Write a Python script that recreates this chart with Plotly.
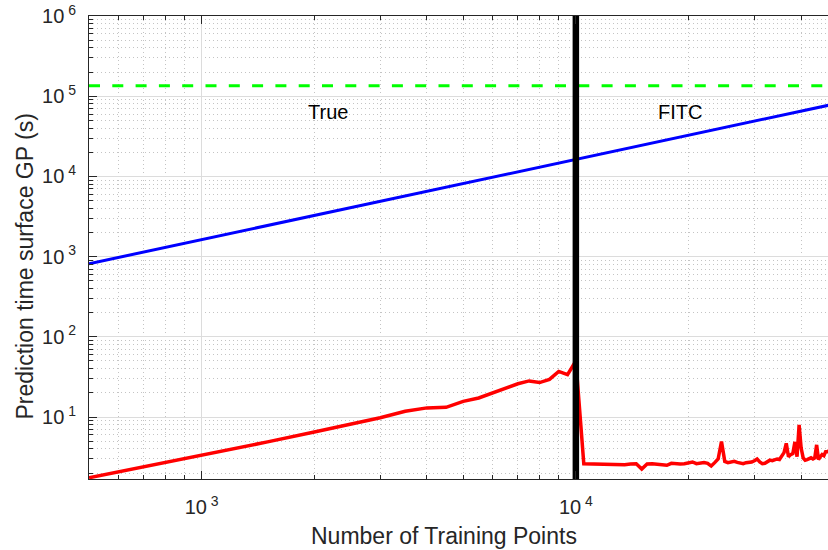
import plotly.graph_objects as go

# ---------------- data ----------------
n_points = list(range(500, 47501, 500))
red_time = [
    1.75, 3.3, 4.9, 6.5, 8.1, 9.8, 11.8, 13.0, 13.2, 15.7,
    17.3, 20.2, 23.0, 26.0, 28.2, 26.9, 29.5, 37.0, 33.7, 50.0,
    2.62, 2.60, 2.58, 2.55, 2.53, 2.53, 2.55, 2.60, 2.62, 2.25,
    2.60, 2.62, 2.60, 2.55, 2.50, 2.65, 2.60, 2.60, 2.62, 2.68,
    2.75, 2.62, 2.65, 2.70, 2.65, 2.45, 2.70, 3.00, 4.95, 2.80,
    2.70, 2.75, 2.80, 2.72, 2.65, 2.62, 2.70, 2.72, 2.75, 2.85,
    3.00, 2.75, 2.62, 2.65, 2.80, 2.90, 2.85, 2.90, 3.00, 2.95,
    3.20, 3.60, 4.70, 3.20, 3.40, 3.50, 4.90, 3.20, 8.00, 4.10,
    3.10, 2.90, 2.95, 3.00, 3.10, 3.00, 3.10, 4.50, 2.95, 3.20,
    3.40, 3.30, 3.70, 3.70, 3.80,
]
blue_n = [500, 10000, 47500]
blue_time = [815, 16300, 77400]
green_n = [500, 47500]
green_time = [135400, 135400]
split_n = [10000, 10000]
split_y = [1.69, 1.0e6]

x_tick_vals = [1000, 10000]
x_tick_text = ["10<sup> 3</sup>", "10<sup> 4</sup>"]
y_tick_vals = [10, 100, 1000, 10000, 100000, 1000000]
y_tick_text = ["10<sup> %d</sup>" % k for k in range(1, 7)]

# ---------------- figure ----------------
FONT = "Liberation Sans, Arial, Helvetica, sans-serif"
AX = "#262626"

fig = go.Figure()
fig.add_trace(go.Scatter(x=green_n, y=green_time, mode="lines",
                         line=dict(color="#00ff00", width=3, dash="11px,12.3px"),
                         showlegend=False, hoverinfo="skip"))
fig.add_trace(go.Scatter(x=blue_n, y=blue_time, mode="lines",
                         line=dict(color="#0000ff", width=3),
                         showlegend=False))
fig.add_trace(go.Scatter(x=n_points, y=red_time, mode="lines",
                         line=dict(color="#ff0000", width=3.5),
                         showlegend=False))
fig.add_trace(go.Scatter(x=split_n, y=split_y, mode="lines",
                         line=dict(color="#000000", width=6.5),
                         showlegend=False, hoverinfo="skip"))

minor_common = dict(ticks="inside", ticklen=4, tickcolor=AX, dtick="D1",
                    showgrid=True, gridcolor="#c4c4c4", griddash="1px,3px",
                    gridwidth=1)

fig.update_xaxes(type="log", range=[2.69897, 4.6738],
                 tickmode="array", tickvals=x_tick_vals, ticktext=x_tick_text,
                 ticks="inside", ticklen=8, tickcolor=AX, tickwidth=1,
                 showline=True, linecolor=AX, linewidth=1, mirror="allticks",
                 showgrid=True, gridcolor="#dcdcdc", gridwidth=1,
                 minor=minor_common, zeroline=False,
                 tickfont=dict(family=FONT, size=20, color=AX),
                 ticklabelstandoff=10, automargin=False)
fig.update_yaxes(type="log", range=[0.2274, 6.0],
                 tickmode="array", tickvals=y_tick_vals, ticktext=y_tick_text,
                 ticks="inside", ticklen=8, tickcolor=AX, tickwidth=1,
                 showline=True, linecolor=AX, linewidth=1, mirror=False,
                 showgrid=True, gridcolor="#dcdcdc", gridwidth=1,
                 minor=minor_common, zeroline=False,
                 tickfont=dict(family=FONT, size=20, color=AX),
                 ticklabelstandoff=8, automargin=False)

fig.update_layout(
    width=828, height=550,
    margin=dict(l=89, r=0, t=16, b=71),
    paper_bgcolor="white", plot_bgcolor="white",
    font=dict(family=FONT, color=AX),
    annotations=[
        dict(text="Number of Training Points", xref="paper", yref="paper",
             x=(444 - 89) / 739, y=(479 - 536) / 463, xanchor="center",
             yanchor="middle", showarrow=False,
             font=dict(family=FONT, size=23, color=AX)),
        dict(text="Prediction time surface GP (s)", xref="paper", yref="paper",
             x=(24 - 89) / 739, y=(479 - 266.5) / 463, xanchor="center",
             yanchor="middle", textangle=-90, showarrow=False,
             font=dict(family=FONT, size=23, color=AX)),
        dict(text="True", xref="x", yref="y", x=3.3369, y=4.804,
             xanchor="center", yanchor="middle", showarrow=False,
             font=dict(family=FONT, size=20, color="#000000")),
        dict(text="FITC", xref="x", yref="y", x=4.278, y=4.804,
             xanchor="center", yanchor="middle", showarrow=False,
             font=dict(family=FONT, size=20, color="#000000")),
    ],
)

fig.write_html("out.html")
